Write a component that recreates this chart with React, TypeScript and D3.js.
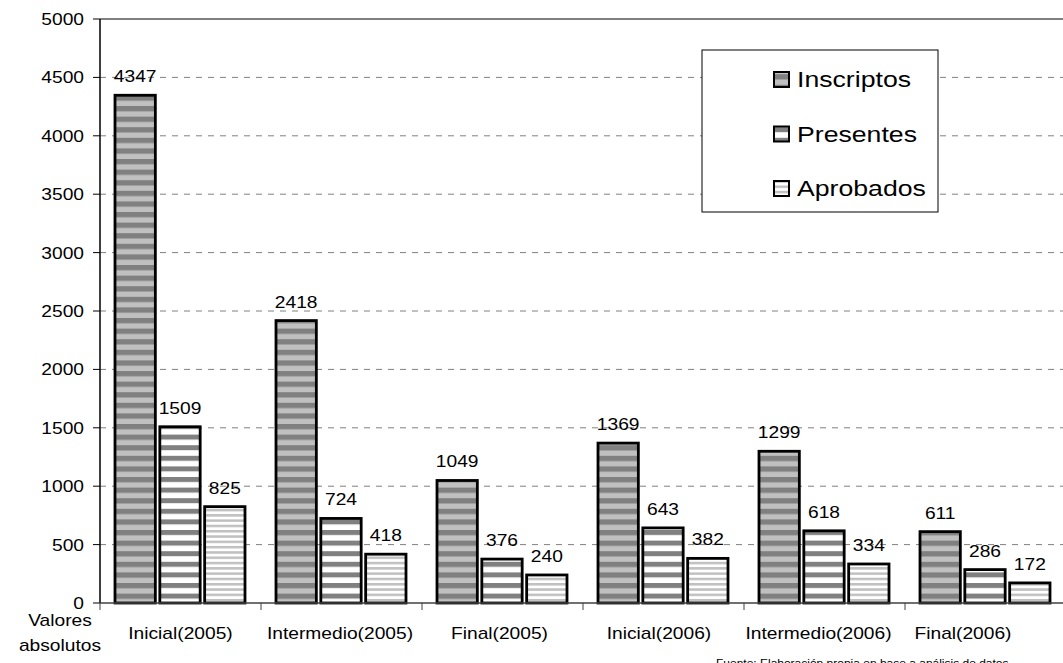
import React from "react";
import * as d3 from "d3";

const categories = [
  "Inicial(2005)",
  "Intermedio(2005)",
  "Final(2005)",
  "Inicial(2006)",
  "Intermedio(2006)",
  "Final(2006)",
];
const series = ["Inscriptos", "Presentes", "Aprobados"];
const inscriptos = [4347, 2418, 1049, 1369, 1299, 611];
const presentes = [1509, 724, 376, 643, 618, 286];
const aprobados = [825, 418, 240, 382, 334, 172];
const yTicks = [0, 500, 1000, 1500, 2000, 2500, 3000, 3500, 4000, 4500, 5000];

const values = [inscriptos, presentes, aprobados];
const patternIds = ["pInscriptos", "pPresentes", "pAprobados"];
const font = "'Liberation Sans', Arial, sans-serif";

// text stretched horizontally like the original export
const T = ({ x, y, size = 16, anchor = "middle", sx = 1.2, children }: any) => (
  <text
    transform={`translate(${x},${y}) scale(${sx},1)`}
    textAnchor={anchor}
    fontSize={size}
    fill="#000"
  >
    {children}
  </text>
);

const App = () => {
  const width = 1063;
  const height = 663;
  const left = 100;
  const top = 19;
  const bottom = 603;

  const x0 = d3
    .scaleBand<string>()
    .domain(categories)
    .range([left, left + 161 * 6]);
  const x1 = d3
    .scaleBand<string>()
    .domain(series)
    .range([15, 145])
    .paddingInner(0.1);
  const y = d3.scaleLinear().domain([0, 5000]).range([bottom, top]);

  return (
    <svg
      width={width}
      height={height}
      style={{ position: "absolute", left: 0, top: 0, background: "#fff" }}
      fontFamily={font}
    >
      <defs>
        <pattern id="pInscriptos" width={10} height={10.6} patternUnits="userSpaceOnUse">
          <rect width={10} height={10.6} fill="#c0c0c0" />
          <rect width={10} height={5.3} fill="#808080" />
        </pattern>
        <pattern id="pPresentes" width={10} height={10.6} patternUnits="userSpaceOnUse">
          <rect width={10} height={10.6} fill="#ffffff" />
          <rect width={10} height={5} fill="#808080" />
        </pattern>
        <pattern id="pAprobados" width={10} height={5.3} patternUnits="userSpaceOnUse">
          <rect width={10} height={5.3} fill="#ffffff" />
          <rect width={10} height={2.5} fill="#c0c0c0" />
        </pattern>
      </defs>

      {/* grid */}
      {yTicks
        .filter((t) => t > 0 && t < 5000)
        .map((t) => (
          <line
            key={t}
            x1={left}
            x2={width}
            y1={y(t)}
            y2={y(t)}
            stroke="#808080"
            strokeWidth={1}
            strokeDasharray="6,6"
          />
        ))}
      <line x1={left} x2={width} y1={top} y2={top} stroke="#808080" strokeWidth={2} />

      {/* bars */}
      {categories.map((c, i) => (
        <g key={c} transform={`translate(${x0(c)},0)`}>
          {series.map((s, j) => {
            const v = values[j][i];
            const bx = x1(s)!;
            const bw = x1.bandwidth();
            return (
              <g key={s}>
                <rect
                  x={bx}
                  y={y(v)}
                  width={bw}
                  height={bottom - y(v)}
                  fill={`url(#${patternIds[j]})`}
                  stroke="#000"
                  strokeWidth={2.8}
                />
                <T x={bx + bw / 2} y={y(v) - 13}>
                  {v}
                </T>
              </g>
            );
          })}
        </g>
      ))}

      {/* y axis */}
      <line x1={left} x2={left} y1={top} y2={bottom} stroke="#000" strokeWidth={1.5} />
      {yTicks.map((t) => (
        <g key={t}>
          <line x1={93} x2={left} y1={y(t)} y2={y(t)} stroke="#000" strokeWidth={1} />
          <T x={84} y={y(t) + 6} anchor="end">
            {t}
          </T>
        </g>
      ))}

      {/* x axis */}
      <line x1={left} x2={width} y1={bottom} y2={bottom} stroke="#404040" strokeWidth={1.5} />
      {categories.map((c) => (
        <line
          key={c}
          x1={x0(c)!}
          x2={x0(c)!}
          y1={bottom}
          y2={bottom + 7}
          stroke="#404040"
          strokeWidth={1}
        />
      ))}
      <line
        x1={x0(categories[5])! + x0.bandwidth()}
        x2={x0(categories[5])! + x0.bandwidth()}
        y1={bottom}
        y2={bottom + 7}
        stroke="#404040"
      />
      {categories.map((c, i) => (
        <T
          key={c}
          x={i === 5 ? 963 : x0(c)! + x0.bandwidth() / 2 - i * 1.5}
          y={639}
        >
          {c}
        </T>
      ))}

      <T x={60} y={626}>
        Valores
      </T>
      <T x={60} y={651}>
        absolutos
      </T>

      {/* legend */}
      <rect x={702} y={50} width={236} height={162} fill="#fff" stroke="#000" strokeWidth={1} />
      {series.map((s, j) => {
        const ly = 87 + j * 54.5;
        return (
          <g key={s}>
            <rect
              x={774}
              y={ly - 15}
              width={15}
              height={15}
              fill={`url(#${patternIds[j]})`}
              stroke="#000"
              strokeWidth={2}
            />
            <T x={797} y={ly} size={21.5} anchor="start" sx={1.24}>
              {s}
            </T>
          </g>
        );
      })}

      <T x={716} y={667} size={10} anchor="start" sx={1.2}>
        Fuente: Elaboración propia en base a análisis de datos
      </T>
    </svg>
  );
};

export default App;
